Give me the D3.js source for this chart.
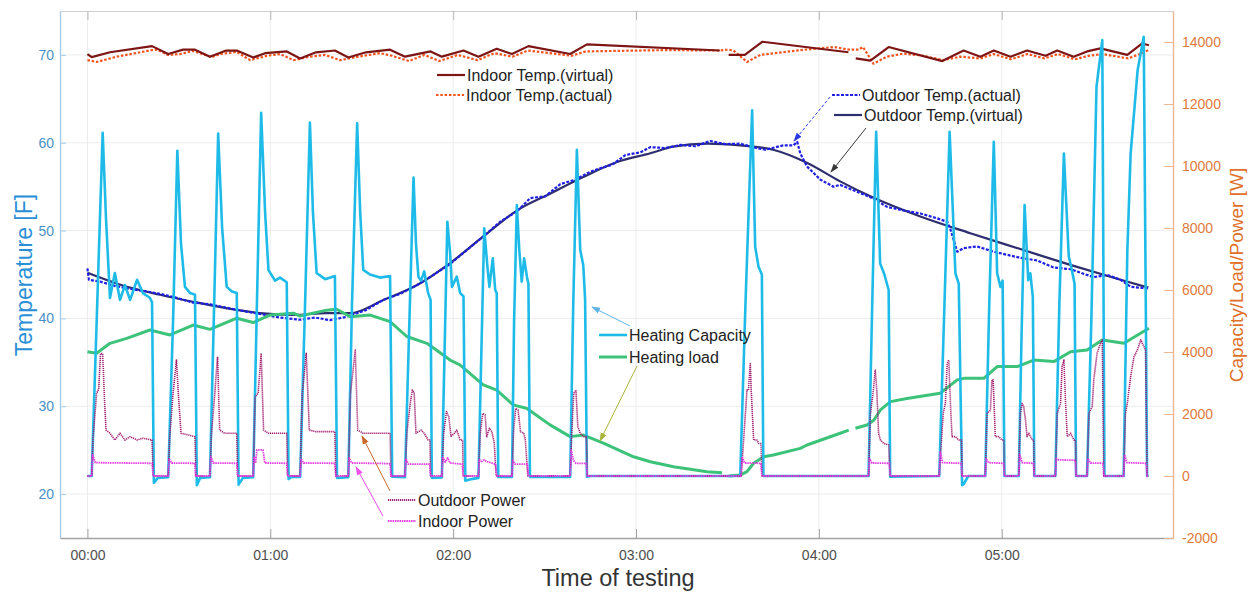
<!DOCTYPE html>
<html lang="en">
<head>
  <meta charset="UTF-8">
  <title>Heat pump test</title>
  <script src="https://d3js.org/d3.v7.min.js"></script>
  <style>
    body { margin: 0; background: #fff; }
    svg { display: block; font-family: "Liberation Sans", Arial, sans-serif; }
    .grid line { stroke: #ececec; stroke-width: 1; }
  </style>
</head>
<body>
<svg id="chart" width="1252" height="592"></svg>
<script>
// —— data (time in minutes from start) ——
const timeTicks = [0, 60, 120, 180, 240, 300];
const timeTickLabels = ["00:00", "01:00", "02:00", "03:00", "04:00", "05:00"];
const tempTicks = [20, 30, 40, 50, 60, 70];
const wattTicks = [-2000, 0, 2000, 4000, 6000, 8000, 10000, 12000, 14000];

// temperatures [F]
const indoorVirtual = [
  [0,70.1],[1.4,69.75],[7.4,70.3],[21.2,71.0],[26.5,70.1],[31.4,70.6],[35.3,70.6],[40.2,69.8],
  [45.5,70.5],[49.0,70.5],[54.4,69.7],[58.3,70.2],[65.4,70.4],[69.8,69.6],[75.0,70.3],[81.2,70.5],
  [85.6,69.7],[91.4,70.3],[99.3,70.6],[104.2,69.8],[112.6,70.4],[116.3,69.8],[123.4,70.5],[128.3,69.8],
  [134.3,70.7],[139.3,70.1],[144.7,71.0],[158.4,70.1],[163.9,71.2],[207.5,70.5],[208,null],
  [210.4,70.0],[215.7,70.0],[221.5,71.5],[249.7,70.3],[250.5,null],
  [252.1,69.6],[256.9,69.35],[262.9,70.9],[280.5,69.3],[287.5,70.5],[293.0,69.8],[297.4,70.5],
  [302.9,69.8],[308.3,70.5],[314.4,69.9],[318.2,70.5],[323.6,69.8],[328.0,70.4],[332.4,70.75],
  [341.2,70.0],[346.1,71.3],[348.3,71.1]
];
const indoorActual = [
  [0,69.4],[3.1,69.2],[5.2,69.4],[9.6,69.8],[21.2,70.55],[22.9,70.6],[26.5,70.0],[30.4,70.1],
  [34.6,70.45],[40.8,69.75],[43.5,70.1],[49,70.35],[53.4,69.4],[58.9,69.9],[63.2,70.1],[67.6,69.4],
  [73.0,69.8],[78,70.0],[82.9,69.4],[88.9,69.8],[96.0,70.2],[99.9,69.9],[105.5,69.3],[110.5,70.0],
  [115.5,69.3],[121.5,70.0],[128,69.4],[133.5,70.2],[139.5,69.8],[144.5,70.5],[158.8,69.9],
  [163.5,70.4],[190,70.55],[207,70.5],[210.4,70.6],[212,70.5],[216.4,69.2],[220.8,70.0],[234,70.55],
  [245,70.9],[250,70.6],[253,70.6],[254.5,70.9],[257.9,69.0],[262.3,69.8],[267.7,70.15],[273.3,69.95],
  [280.9,69.4],[286.3,69.8],[293,69.6],[297.4,70.1],[303,69.5],[308.5,70.1],[314,69.6],[318.5,70.1],
  [324,69.5],[328.5,69.9],[333,70.1],[341.5,69.6],[346.5,70.25],[348.3,70.6]
];
const outdoorActual = [
  [0,45.7],[0.5,44.4],[4.1,44.2],[9.0,43.7],[14.0,43.35],[18.9,43.1],[23.8,42.8],[28.7,42.4],
  [34.6,41.8],[40.2,41.6],[45.8,41.2],[53.3,40.7],[58.3,40.4],[63.2,40.1],[69.8,39.85],[74.7,40.1],
  [79.6,39.8],[84.5,40.15],[91.1,40.9],[97.1,42.1],[102.6,42.8],[108.2,43.8],[112.4,44.7],[119.0,46.2],
  [123.9,47.6],[129.8,49.3],[135.4,51.0],[141.0,52.2],[145.3,53.7],[150.2,53.9],[155.2,55.3],
  [160.1,55.8],[165.0,56.7],[168.3,57.1],[172.2,57.5],[176.5,58.6],[181.4,58.9],[184.7,59.5],
  [189.6,59.4],[194.6,59.75],[199.5,59.6],[204.4,60.2],[209.3,59.85],[214.2,59.9],[218.2,59.5],
  [222.4,59.2],[228.3,59.7],[231.6,59.7],[232.9,60.1],[233.9,58.8],[236.1,57.3],[240.5,55.8],
  [244.8,55.0],[247.0,55.2],[252.0,54.5],[256.9,53.8],[262.4,52.7],[267.7,52.3],[273.3,51.95],
  [278.8,51.4],[282.1,51.0],[283.2,50.1],[285.4,47.6],[287.5,48.0],[291.9,48.2],[297.3,47.6],
  [306.1,46.9],[311.6,46.6],[317.0,45.8],[322.6,45.6],[330.1,44.7],[334.6,44.95],[339.0,44.4],
  [342.3,43.6],[348.2,43.4]
];
const outdoorVirtual = [
  [0,45.2],[13,43.6],[23.8,42.7],[34.6,41.9],[45.8,41.15],[56.6,40.6],[67.5,40.4],[78.6,40.6],
  [86.2,40.6],[97.1,42.1],[108.2,43.8],[119,46.3],[129.8,49.3],[141,52.3],[151.8,54.2],[162.7,56.1],
  [173.8,57.8],[184.7,58.8],[192.2,59.55],[203.4,59.9],[214.2,59.7],[225,59.2],[236.2,57.7],
  [247,55.6],[256.9,53.9],[273.3,51.6],[289.7,49.7],[306.1,47.9],[322.5,46.1],[339,44.4],[348.1,43.5]
];

// powers [W]
const heatingCapacity = [
  [0,0],[1.4,0],[3.1,5200],[5.0,11070],[6.1,8300],[7.4,5740],[9.0,6550],[10.7,5680],[12.3,6160],
  [14.0,5680],[16.3,6330],[18.2,5900],[20.5,5750],[21.2,5600],[21.8,-220],[23.1,-60],
  [26.5,-40],[28.1,5000],[29.5,10490],[30.7,7500],[32.0,6100],[33.7,5900],[35.3,5850],[35.9,-300],[37,-60],
  [40.2,-40],[41.5,5200],[42.9,11050],[44.2,8000],[45.7,6100],[47.4,5950],[49.0,5900],[49.6,-280],[51,-60],
  [54.4,-40],[55.6,5500],[57.0,11720],[58.3,8500],[59.4,6640],[61.6,6300],[63.2,6400],[65.4,6250],[66.0,-100],[67,-20],
  [69.8,-30],[71.4,5500],[73.0,11400],[74.0,8500],[75.2,6550],[78.0,6350],[81.2,6450],[81.9,-60],
  [85.6,-40],[86.8,5500],[88.5,11380],[89.5,8500],[90.5,6650],[92.7,6500],[96.0,6400],[99.3,6450],[100.0,-20],
  [104.2,-40],[105.5,4500],[107.0,9630],[107.8,7500],[108.6,6430],[109.5,6300],[110.5,6600],[111.8,5900],[112.6,5680],[113,-60],
  [116.3,-50],[117.4,5000],[118.1,8200],[119.0,7200],[119.6,6100],[121.2,6430],[122.3,5900],[123.4,5800],[124,-150],[126,-100],
  [128.3,-60],[129.5,5000],[130.2,7990],[131.2,6800],[131.9,6100],[133.0,7020],[133.8,6000],[134.3,5900],[134.8,-30],
  [139.3,-30],[140.0,5000],[140.9,8740],[141.7,7300],[142.5,6270],[143.3,7020],[144.2,6430],[144.7,6200],[145.2,-30],
  [158.4,-30],[159.4,5500],[160.6,10520],[161.7,7290],[162.7,6800],[163.3,5680],[163.9,-20],[165,0],
  [214.2,0],[215.9,5500],[218.1,11800],[219.1,7400],[220.2,6750],[221.3,6500],[221.8,0],
  [256.3,0],[257.5,5500],[258.8,11100],[260.1,6860],[261.5,6500],[262.9,6000],[263.4,-20],
  [279.5,0],[281.2,5500],[282.9,11100],[284.8,6540],[285.9,6200],[287.0,-300],[287.6,-250],[289,0],
  [294.6,0],[295.9,5500],[297.4,10780],[298.5,6540],[299.6,6100],[300.3,6300],[300.9,0],
  [305.6,0],[306.5,4500],[307.5,8740],[308.7,6320],[309.4,6540],[310.2,5780],[310.7,0],
  [317.6,0],[318.9,5500],[320.4,10400],[322.0,7080],[322.9,6700],[323.9,6200],[324.4,0],
  [328.0,0],[329.4,5000],[331.1,12560],[333.0,14060],[333.7,0],
  [340.0,0],[341.2,7200],[342.3,10400],[344.6,13100],[346.6,14170],[347.7,0],[348.2,0]
];
const heatingLoad = [
  [0,4010],[3.0,3960],[7.4,4280],[12.9,4440],[20.5,4710],[27.1,4550],[34.7,4870],[40.2,4730],
  [49.0,5090],[54.4,4950],[59.9,5190],[67.6,5250],[69.8,5160],[78.5,5350],[81.8,5380],[86.2,5140],
  [92.8,5190],[99.3,4980],[104.8,4500],[111.4,4280],[119.0,3740],[122.3,3580],[129.9,2940],
  [134.3,2770],[139.8,2290],[144.2,2180],[151.8,1650],[158.4,1270],[162.8,1320],[169.3,1060],
  [179.2,620],[184.7,460],[192.3,300],[203.3,140],[208.2,106],[208.3,null],
  [210.4,0],[214.2,30],[216.4,140],[218.6,410],[221.9,620],[225.1,680],[233.9,890],[236.1,1000],
  [247.0,1380],[249.8,1480],[250.5,null],[252.0,1540],[255.8,1645],[258.0,1800],[260.2,2130],
  [263.5,2400],[268.9,2500],[279.8,2670],[285.4,3100],[287.5,3150],[294.1,3150],[298.5,3530],
  [305.1,3530],[310.5,3740],[317.1,3690],[322.6,4010],[328.0,4065],[333.0,4390],[340.1,4280],[348.3,4765]
];
const outdoorPower = [
  [0,0],[1.4,0],[1.8,1160],[3.0,2670],[3.7,2800],[4.3,3950],[5.0,3950],[5.6,2500],[6.1,1480],[7.4,1380],
  [9.0,1160],[10.7,1380],[12.3,1160],[14.0,1270],[16.3,1160],[18.2,1220],[21.2,1160],[21.6,0],
  [26.5,0],[27.0,1270],[28.1,2670],[29.2,3740],[29.8,2700],[30.7,1380],[35.3,1270],[35.6,0],
  [40.2,0],[40.7,1380],[41.8,2670],[42.7,3850],[43.4,1480],[45,1380],[49.0,1380],[49.3,0],
  [54.4,0],[55.0,2550],[56.0,2670],[57.0,3960],[57.8,1480],[59.4,1380],[65.4,1380],[65.7,0],
  [69.8,0],[70.5,2670],[71.8,3960],[72.8,1480],[75,1430],[81.2,1430],[81.5,0],
  [85.6,0],[86.3,2670],[87.9,4060],[88.7,1480],[90.5,1380],[99.3,1380],[99.6,0],
  [104.2,0],[104.8,1380],[106.0,2400],[106.6,2770],[107.2,2700],[107.8,1380],[109.5,1480],[110.5,1380],[111.8,1160],[112.4,1160],[112.6,0],
  [116.3,0],[116.9,1380],[117.8,2080],[118.6,1900],[119.3,1280],[120.4,1380],[121.2,1480],[122.3,1160],[123.1,1160],[123.3,0],
  [128.3,0],[128.9,1380],[129.7,2020],[130.5,1970],[131.0,1270],[131.9,1540],[132.7,1430],[133.5,1060],[134.1,0],
  [139.3,0],[139.8,1380],[140.5,2180],[141.3,2130],[142.1,1430],[143.2,1380],[143.7,1160],[144.5,0],
  [158.4,0],[158.9,1380],[159.6,2670],[160.3,2770],[160.9,1600],[161.7,1380],[162.7,1270],[163.7,1270],[164,0],
  [214.5,0],[215.3,1160],[215.9,2020],[216.4,2770],[216.9,2770],[217.5,3630],[217.8,2770],[218.6,1160],[219.7,1160],[220.2,1050],[221.0,1050],[221.3,0],
  [256.3,0],[256.9,2020],[257.9,2770],[258.5,3420],[259.0,2770],[259.6,1380],[260.2,1160],[261.3,1050],[262.9,1000],[263.4,0],
  [279.5,0],[280.8,2020],[281.5,2340],[282.1,3630],[282.6,3740],[283.2,2240],[283.7,1270],[284.8,1270],[285.9,1160],[286.8,1160],[287.0,0],
  [294.6,0],[295.2,2020],[296.3,2120],[296.8,3100],[297.2,3100],[297.9,1270],[299.0,1270],[300.1,1160],[300.7,1160],[300.9,0],
  [305.6,0],[306.1,2020],[306.7,2340],[307.2,2240],[307.8,1810],[308.3,1270],[308.9,1380],[310.0,1160],[310.5,1160],[310.7,0],
  [317.6,0],[318.2,2020],[319.3,2340],[319.8,3530],[320.4,3740],[320.9,2450],[321.5,1270],[322.6,1380],[323.7,1160],[324.2,1160],[324.4,0],
  [328.0,0],[328.6,2020],[329.7,2240],[330.2,3100],[331.3,3960],[332.4,4280],[333.0,4390],[333.5,0],
  [340.0,0],[340.6,2020],[341.2,2340],[342.3,3200],[343.4,3850],[344.5,4060],[345.6,4390],[346.7,4170],[347.2,4060],[347.7,0],[348.2,0]
];
const indoorPower = [
  [0,0],[1.4,0],[1.7,680],[2.6,430],[21.2,410],[21.6,0],
  [26.5,0],[26.8,560],[27.6,420],[35.2,410],[35.5,0],
  [40.2,0],[40.5,620],[41.3,420],[49.0,410],[49.3,0],
  [54.4,0],[54.7,620],[55.2,420],[55.6,840],[57.6,840],[58.2,420],[65.4,410],[65.7,0],
  [69.8,0],[70.1,560],[70.9,420],[81.2,410],[81.5,0],
  [85.6,0],[85.9,580],[86.7,420],[99.3,400],[99.6,0],
  [104.2,0],[104.5,560],[105.3,380],[112.3,380],[112.6,0],
  [116.3,0],[116.6,620],[117.4,450],[118.2,580],[119.0,420],[123.0,380],[123.3,0],
  [128.3,0],[128.6,520],[129.4,470],[130.2,520],[131.0,470],[133.9,380],[134.3,0],
  [139.3,0],[139.6,500],[140.4,380],[144.4,380],[144.7,0],
  [158.4,0],[158.7,840],[159.5,500],[160.3,410],[163.7,410],[164.0,0],
  [214.5,0],[214.8,620],[215.6,420],[221.0,410],[221.3,0],
  [256.3,0],[256.6,560],[257.4,420],[263.1,410],[263.4,0],
  [279.5,0],[279.8,780],[280.6,430],[286.7,410],[287.0,0],
  [294.6,0],[294.9,560],[295.7,430],[300.6,410],[300.9,0],
  [305.6,0],[305.9,700],[306.7,430],[310.4,410],[310.7,0],
  [317.6,0],[317.9,560],[318.7,520],[324.1,510],[324.4,0],
  [328.0,0],[328.3,560],[329.1,420],[333.2,410],[333.5,0],
  [340.0,0],[340.3,680],[341.1,430],[347.4,410],[347.7,0],[348.2,0]
];

// —— layout ——
const plot = { left: 60, right: 1173, top: 11, bottom: 538 };

const svg = d3.select("#chart");

const x = d3.scaleLinear().domain([-9, 356.2]).range([plot.left, plot.right]);
const yT = d3.scaleLinear().domain([15, 75]).range([plot.bottom, plot.top]);
const yW = d3.scaleLinear().domain([-2000, 15000]).range([plot.bottom, plot.top]);

// grid
const grid = svg.append("g").attr("class", "grid");
grid.selectAll("line.v").data(timeTicks).join("line")
  .attr("x1", d => x(d)).attr("x2", d => x(d))
  .attr("y1", plot.top).attr("y2", plot.bottom);
grid.selectAll("line.h").data(tempTicks).join("line")
  .attr("class", "h")
  .attr("x1", plot.left).attr("x2", plot.right)
  .attr("y1", d => yT(d)).attr("y2", d => yT(d));

// series
const lineT = d3.line().defined(d => d[1] !== null).x(d => x(d[0])).y(d => yT(d[1]));
const lineW = d3.line().defined(d => d[1] !== null).x(d => x(d[0])).y(d => yW(d[1]));
const smoothT = d3.line().x(d => x(d[0])).y(d => yT(d[1])).curve(d3.curveMonotoneX);

const series = [
  { data: indoorActual,    gen: lineT,   color: "#f4531c", width: 2.2, dash: "2.5,1.8" },
  { data: indoorVirtual,   gen: lineT,   color: "#7d1515", width: 2.2 },
  { data: outdoorVirtual,  gen: smoothT, color: "#2e2e6e", width: 2.2 },
  { data: outdoorActual,   gen: lineT,   color: "#1f1fe6", width: 2.2, dash: "3,1.5" },
  { data: heatingLoad,     gen: lineW,   color: "#3dc27a", width: 3 },
  { data: heatingCapacity, gen: lineW,   color: "#1ebbe8", width: 2.6 },
  { data: outdoorPower,    gen: lineW,   color: "#a01f70", width: 1.6, dash: "1.2,0.8" },
  { data: indoorPower,     gen: lineW,   color: "#e23ae0", width: 1.8, dash: "1.5,0.8" }
];

svg.append("clipPath").attr("id", "clip").append("rect")
  .attr("x", plot.left).attr("y", plot.top)
  .attr("width", plot.right - plot.left).attr("height", plot.bottom - plot.top);

const lines = svg.append("g").attr("clip-path", "url(#clip)");
series.forEach(s => {
  lines.append("path")
    .attr("d", s.gen(s.data))
    .attr("fill", "none")
    .attr("stroke", s.color)
    .attr("stroke-width", s.width)
    .attr("stroke-linejoin", "round")
    .attr("stroke-dasharray", s.dash || null);
});

// axes
const xAxis = svg.append("g").attr("transform", `translate(0,${plot.bottom})`)
  .call(d3.axisBottom(x).tickValues(timeTicks).tickFormat((d, i) => timeTickLabels[i])
    .tickSizeInner(-9).tickSizeOuter(0).tickPadding(12));
xAxis.select(".domain").attr("stroke", "#a4a4a4").attr("stroke-width", 1.6);
xAxis.selectAll(".tick line").attr("stroke", "#a4a4a4");
xAxis.selectAll("text").attr("fill", "#4d4d4d").attr("font-size", 14);

const xTop = svg.append("g").attr("transform", `translate(0,${plot.top})`)
  .call(d3.axisTop(x).tickValues(timeTicks).tickFormat("").tickSizeInner(-9).tickSizeOuter(0));
xTop.select(".domain").attr("stroke", "#cfcfcf");
xTop.selectAll(".tick line").attr("stroke", "#b8b8b8");

const yLeft = svg.append("g").attr("transform", `translate(${plot.left},0)`)
  .call(d3.axisLeft(yT).tickValues(tempTicks).tickSizeInner(-6).tickSizeOuter(0).tickPadding(6));
yLeft.select(".domain").attr("stroke", "#a9cbe6").attr("stroke-width", 1.4);
yLeft.selectAll(".tick line").attr("stroke", "#a9cbe6");
yLeft.selectAll("text").attr("fill", "#4a90c6").attr("font-size", 14);

const yRight = svg.append("g").attr("transform", `translate(${plot.right},0)`)
  .call(d3.axisRight(yW).tickValues(wattTicks).tickFormat(d => String(d))
    .tickSizeInner(-9).tickSizeOuter(0).tickPadding(9));
yRight.select(".domain").attr("stroke", "#efb692").attr("stroke-width", 1.4);
yRight.selectAll(".tick line").attr("stroke", "#efb692");
yRight.selectAll("text").attr("fill", "#e07a3c").attr("font-size", 14);

// axis titles
svg.append("text").attr("x", 618).attr("y", 586).attr("text-anchor", "middle")
  .attr("font-size", 23.5).attr("fill", "#333").text("Time of testing");
svg.append("text").attr("transform", "translate(32,275) rotate(-90)").attr("text-anchor", "middle")
  .attr("font-size", 23).attr("fill", "#2a8fd6").text("Temperature [F]");
svg.append("text").attr("transform", "translate(1243,275) rotate(-90)").attr("text-anchor", "middle")
  .attr("font-size", 19).attr("fill", "#e0702a").text("Capacity/Load/Power [W]");

// legends (annotation style, placed near their curves)
const legends = [
  { label: "Indoor Temp.(virtual)",  x: 437, y: 75,  s: series[1] },
  { label: "Indoor Temp.(actual)",   x: 436, y: 95,  s: series[0] },
  { label: "Outdoor Temp.(actual)",  x: 832, y: 95,  s: series[3] },
  { label: "Outdoor Temp.(virtual)", x: 834, y: 115, s: series[2] },
  { label: "Heating Capacity",       x: 599, y: 335, s: series[5] },
  { label: "Heating load",           x: 599, y: 357, s: series[4] },
  { label: "Outdoor Power",          x: 388, y: 500, s: series[6] },
  { label: "Indoor Power",           x: 388, y: 521, s: series[7] }
];
const lg = svg.append("g");
legends.forEach(l => {
  lg.append("line")
    .attr("x1", l.x).attr("x2", l.x + 28).attr("y1", l.y).attr("y2", l.y)
    .attr("stroke", l.s.color).attr("stroke-width", Math.max(l.s.width, 2.2))
    .attr("stroke-dasharray", l.s.dash || null);
  lg.append("text")
    .attr("x", l.x + 30).attr("y", l.y + 6)
    .attr("font-size", 16).attr("fill", "#222").text(l.label);
});

// arrows
const arrows = [
  { from: [830, 97],  to: [794, 141], color: "#2a3ae6", dash: "3,2" },
  { from: [866, 128], to: [831, 172], color: "#3a3a3a" },
  { from: [630, 326], to: [592, 307], color: "#62b4e4" },
  { from: [637, 366], to: [600, 441], color: "#a9b53a" },
  { from: [390, 491], to: [362, 436], color: "#c8692e" },
  { from: [383, 516], to: [356, 467], color: "#ee4fee" }
];
const defs = svg.append("defs");
arrows.forEach((a, i) => {
  defs.append("marker").attr("id", "ah" + i)
    .attr("viewBox", "0 0 10 10").attr("refX", 9).attr("refY", 5)
    .attr("markerWidth", 9).attr("markerHeight", 9)
    .attr("markerUnits", "userSpaceOnUse").attr("orient", "auto")
    .append("path").attr("d", "M0,1.5 L10,5 L0,8.5 Z").attr("fill", a.color);
  svg.append("line")
    .attr("x1", a.from[0]).attr("y1", a.from[1]).attr("x2", a.to[0]).attr("y2", a.to[1])
    .attr("stroke", a.color).attr("stroke-width", 1)
    .attr("stroke-dasharray", a.dash || null)
    .attr("marker-end", `url(#ah${i})`);
});
</script>
</body>
</html>
